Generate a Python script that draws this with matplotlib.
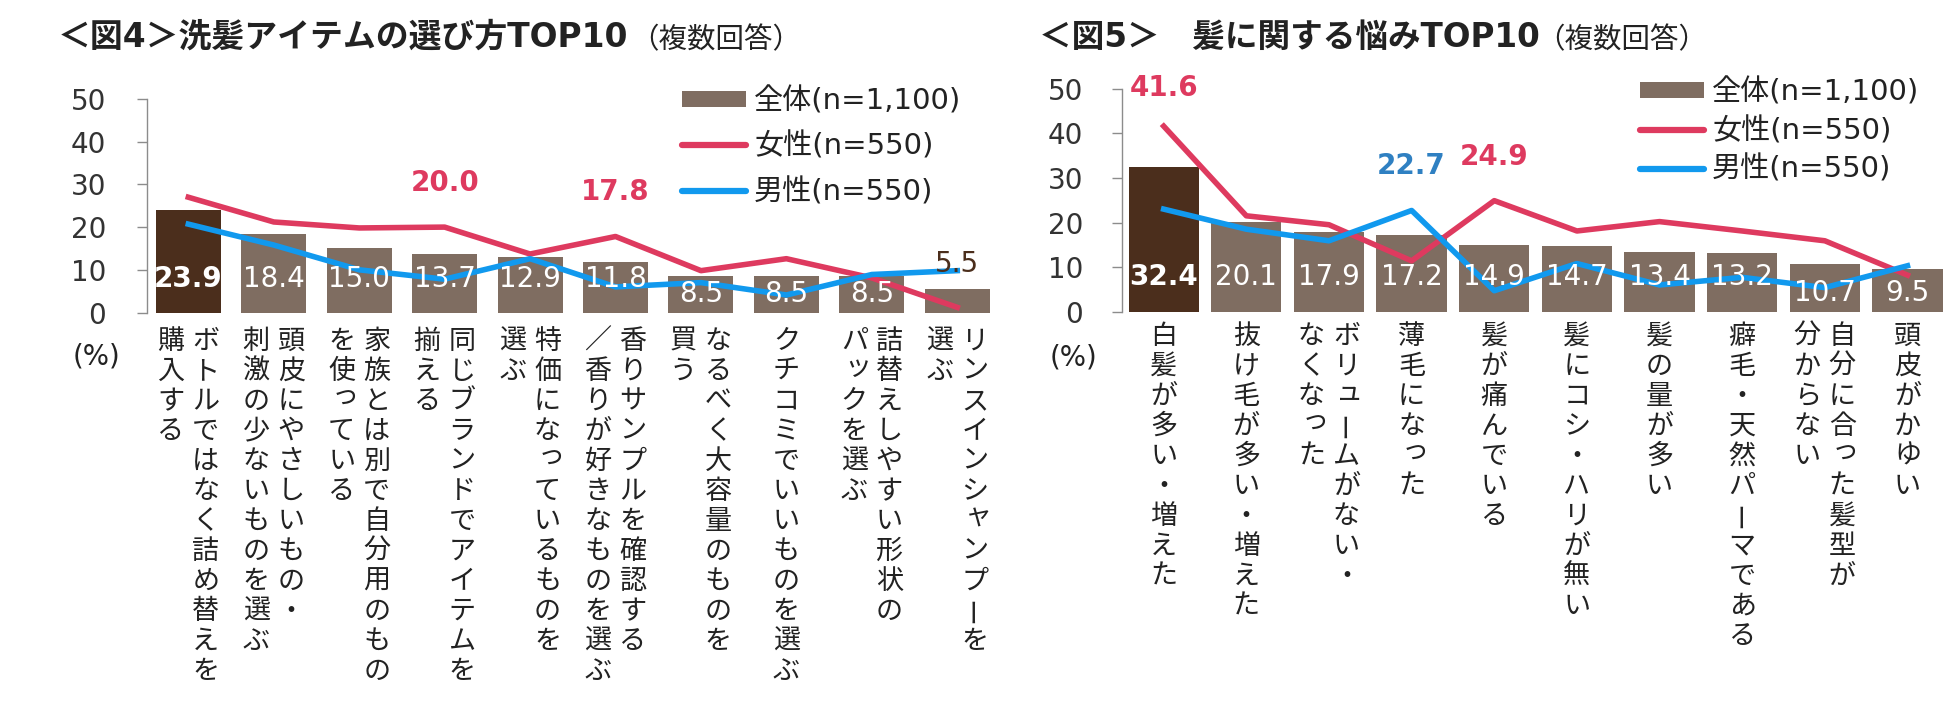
import matplotlib
matplotlib.use("Agg")
import matplotlib.pyplot as plt
from matplotlib.patches import Patch
from matplotlib.lines import Line2D

plt.rcParams['font.family'] = ['DejaVu Sans', 'Noto Sans CJK JP']

W, H = 1950, 705

BAR = '#7f6d61'
BAR_HI = '#4b2e1c'
RED = '#de3a5f'
BLUE = '#1199ee'
BLUE_TXT = '#2f80c2'
TXT = '#222222'
GRAY = '#8c8c8c'
JP = ['Noto Sans CJK JP', 'DejaVu Sans']

legend_labels = ['全体(n=1,100)', '女性(n=550)', '男性(n=550)']

# 図4 洗髪アイテムの選び方 (each label: columns, right to left)
fig4_labels = [
    ["ボトルではなく詰め替えを", "購入する"],
    ["頭皮にやさしいもの・", "刺激の少ないものを選ぶ"],
    ["家族とは別で自分用のもの", "を使っている"],
    ["同じブランドでアイテムを", "揃える"],
    ["特価になっているものを", "選ぶ"],
    ["香りサンプルを確認する", "／香りが好きなものを選ぶ"],
    ["なるべく大容量のものを", "買う"],
    ["クチコミでいいものを選ぶ"],
    ["詰替えしやすい形状の", "パックを選ぶ"],
    ["リンスインシャンプーを", "選ぶ"],
]
fig4_total = [23.9, 18.4, 15.0, 13.7, 12.9, 11.8, 8.5, 8.5, 8.5, 5.5]
fig4_female = [27.0, 21.2, 19.8, 20.0, 13.7, 17.8, 9.8, 12.6, 8.1, 1.2]
fig4_male = [20.7, 15.8, 10.0, 7.8, 12.6, 6.0, 7.0, 4.1, 8.9, 9.8]

# 図5 髪に関する悩み
fig5_labels = [
    ["白髪が多い・増えた"],
    ["抜け毛が多い・増えた"],
    ["ボリュームがない・", "なくなった"],
    ["薄毛になった"],
    ["髪が痛んでいる"],
    ["髪にコシ・ハリが無い"],
    ["髪の量が多い"],
    ["癖毛・天然パーマである"],
    ["自分に合った髪型が", "分からない"],
    ["頭皮がかゆい"],
]
fig5_total = [32.4, 20.1, 17.9, 17.2, 14.9, 14.7, 13.4, 13.2, 10.7, 9.5]
fig5_female = [41.6, 21.5, 19.5, 11.4, 24.9, 18.1, 20.2, 18.1, 15.9, 8.2]
fig5_male = [23.0, 18.5, 15.9, 22.7, 4.7, 10.8, 6.0, 7.7, 5.4, 10.3]

SMALL = set("ぁぃぅぇぉっゃゅょァィゥェォッャュョ")
ROTATE = set("ー")


def vertical_label(ax, x, lines, top_pt, fs=19.5, pitch=21.6, col=12.6):
    n = len(lines)
    for j, line in enumerate(lines):
        dx = ((n - 1) / 2 - j) * 2 * col
        for i, ch in enumerate(line):
            base = -top_pt - 0.88 * fs - i * pitch
            ox, oy = dx, base
            kw = dict(ha='center', va='baseline')
            if ch in ROTATE:
                kw = dict(ha='center', va='center', rotation=90)
                oy = base + 0.36 * fs
            elif ch in SMALL:
                ox += 0.12 * fs
                oy += 0.14 * fs
            ax.annotate(ch, xy=(x, 0), xycoords='data', xytext=(ox, oy),
                        textcoords='offset points', fontsize=fs, color=TXT,
                        family=JP, annotation_clip=False, **kw)


def draw_panel(ax, labels, total, female, male, bar_w, top_pt):
    xs = list(range(len(total)))
    colors = [BAR_HI] + [BAR] * (len(total) - 1)
    ax.bar(xs, total, width=bar_w, color=colors, zorder=1)
    ax.plot(xs, female, color=RED, lw=4, solid_joinstyle='round', zorder=2)
    ax.plot(xs, male, color=BLUE, lw=4, solid_joinstyle='round', zorder=2)
    for i, v in enumerate(total):
        if v < 7:
            continue  # too short, labelled above instead
        yb = 6.0 if v >= 11 else 2.5
        ax.text(i, yb, f"{v:.1f}", ha='center', va='baseline', fontsize=20,
                color='white', weight='bold' if i == 0 else 'normal', zorder=3)
    for i, lab in enumerate(labels):
        vertical_label(ax, i, lab, top_pt)
    ax.set_xlim(-0.5, len(total) - 0.5)
    ax.set_ylim(0, 50)
    ax.set_yticks(range(0, 51, 10))
    ax.set_xticks([])
    for s in ['top', 'right', 'bottom']:
        ax.spines[s].set_visible(False)
    ax.spines['left'].set_color(GRAY)
    ax.spines['left'].set_linewidth(1)
    ax.tick_params(axis='y', length=7.2, width=1, color=GRAY, labelsize=20,
                   labelcolor='#333333')


def add_legend(fig, ax, left_px, top_px, spacing):
    handles = [Patch(facecolor=BAR, edgecolor='none'),
               Line2D([], [], color=RED, lw=4.5, solid_capstyle='round'),
               Line2D([], [], color=BLUE, lw=4.5, solid_capstyle='round')]
    ax.legend(handles, legend_labels, loc='upper left',
              bbox_to_anchor=(left_px / W, 1 - top_px / H),
              bbox_transform=fig.transFigure, frameon=False, fontsize=21,
              handlelength=2.2, handleheight=0.5, handletextpad=0.27,
              labelspacing=spacing, borderpad=0, borderaxespad=0,
              labelcolor=TXT)


fig = plt.figure(figsize=(W / 100, H / 100), dpi=100)

ax4 = fig.add_axes([146.7 / W, (H - 312.5) / H, 853.3 / W, 213.5 / H])
draw_panel(ax4, fig4_labels, fig4_total, fig4_female, fig4_male, 0.76, 9)
ax4.set_xlim(-0.487, 9.5)
ax4.tick_params(axis='y', pad=22)

ax5 = fig.add_axes([1121.7 / W, (H - 311.7) / H, 827.1 / W, 223.0 / H])
draw_panel(ax5, fig5_labels, fig5_total, fig5_female, fig5_male, 0.85, 6)
ax5.set_xlim(-0.508, 9.5)
ax5.tick_params(axis='y', pad=20.5)

# highlighted values
ax4.annotate(f"{fig4_female[3]:.1f}", xy=(3, fig4_female[3]), xytext=(0, 26),
             textcoords='offset points', ha='center', va='baseline',
             fontsize=20, weight='bold', color=RED)
ax4.annotate(f"{fig4_female[5]:.1f}", xy=(5, fig4_female[5]), xytext=(0, 26),
             textcoords='offset points', ha='center', va='baseline',
             fontsize=20, weight='bold', color=RED)
ax4.annotate(f"{fig4_total[9]:.1f}", xy=(9, fig4_total[9]), xytext=(0, 12),
             textcoords='offset points', ha='center', va='baseline',
             fontsize=20, color=BAR_HI)
ax5.annotate(f"{fig5_female[0]:.1f}", xy=(0, fig5_female[0]), xytext=(0, 22),
             textcoords='offset points', ha='center', va='baseline',
             fontsize=20, weight='bold', color=RED, annotation_clip=False)
ax5.annotate(f"{fig5_male[3]:.1f}", xy=(3, fig5_male[3]), xytext=(0, 26),
             textcoords='offset points', ha='center', va='baseline',
             fontsize=20, weight='bold', color=BLUE_TXT)
ax5.annotate(f"{fig5_female[4]:.1f}", xy=(4, fig5_female[4]), xytext=(0, 26),
             textcoords='offset points', ha='center', va='baseline',
             fontsize=20, weight='bold', color=RED)

add_legend(fig, ax4, 682, 87, 0.59)
add_legend(fig, ax5, 1640, 78, 0.36)

# titles
fig.text(58 / W, 1 - 47 / H, "＜図4＞洗髪アイテムの選び方TOP10", fontsize=23.7,
         weight='bold', color=TXT, ha='left', va='baseline')
fig.text(630 / W, 1 - 48 / H, "（複数回答）", fontsize=20.5, color=TXT,
         ha='left', va='baseline', family=JP)
fig.text(1039 / W, 1 - 47 / H, "＜図5＞　髪に関する悩みTOP10", fontsize=23.5,
         weight='bold', color=TXT, ha='left', va='baseline')
fig.text(1536 / W, 1 - 48 / H, "（複数回答）", fontsize=20.5, color=TXT,
         ha='left', va='baseline', family=JP)

fig.text(96.7 / W, 1 - 356.7 / H, "(%)", fontsize=20, color=TXT,
         ha='center', va='center')
fig.text(1074 / W, 1 - 358 / H, "(%)", fontsize=20, color=TXT,
         ha='center', va='center')

fig.savefig("out.png", dpi=100, facecolor='white')
